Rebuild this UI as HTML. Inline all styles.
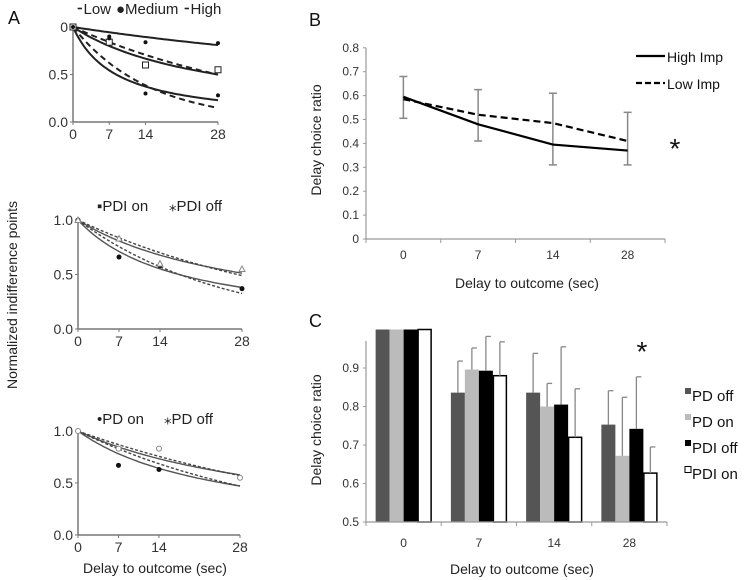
<!DOCTYPE html>
<html><head><meta charset="utf-8"><style>
body{margin:0;background:#fff;}
svg{display:block;font-family:"Liberation Sans",sans-serif;}
</style></head><body>
<svg id="s" width="750" height="580" viewBox="0 0 750 580"></svg>
<script>
// ---------- Panel A data ----------
const aDelays=[0,7,14,28];
const aTopK=[0.0084,0.0357,0.12];          // solid hyperbolic fits: high, medium, low
const aTopKd=[0.0248,0.068];               // dashed exponential fits: medium, low
const aTopHigh=[1,0.9,0.84,0.83];
const aTopMed=[1,0.84,0.6,0.55];
const aTopLow=[1,0.88,0.3,0.28];
const aMidK=[0.034,0.058];                 // solid: PDI off, PDI on
const aMidKd=[0.0255,0.04];
const aMidOn=[1,0.66,0.58,0.37];
const aMidOff=[1,0.83,0.6,0.55];
const aBotK=[0.026,0.04];                  // solid: PD off, PD on
const aBotKd=[0.02,0.027];
const aBotOn=[1,0.67,0.63,0.55];
const aBotOff=[1,0.83,0.83,0.55];
// ---------- Panel B data ----------
const bCats=["0","7","14","28"];
const bHigh=[0.595,0.48,0.395,0.37];
const bLow=[0.585,0.52,0.485,0.41];
const bErrLo=[0.505,0.41,0.31,0.31];
const bErrHi=[0.68,0.625,0.61,0.53];
const bTicks=["0","0.1","0.2","0.3","0.4","0.5","0.6","0.7","0.8"];
// ---------- Panel C data ----------
const cCats=["0","7","14","28"];
const cSeries=["PD off","PD on","PDI off","PDI on"];
const cPDoff=[1.0,0.836,0.836,0.753];
const cPDon=[1.0,0.896,0.8,0.672];
const cPDIoff=[1.0,0.893,0.805,0.742];
const cPDIon=[1.0,0.88,0.72,0.627];
const cErrPDoff=[0.001,0.082,0.102,0.088];
const cErrPDon=[0.001,0.056,0.06,0.152];
const cErrPDIoff=[0.001,0.089,0.15,0.135];
const cErrPDIon=[0,0.088,0.126,0.068];
const cTicks=["0.5","0.6","0.7","0.8","0.9"];

const S=document.getElementById('s');
const NS="http://www.w3.org/2000/svg";
function mk(tag,attrs,name,txt){const e=document.createElementNS(NS,tag);for(const k in attrs)e.setAttribute(k,attrs[k]);


if(txt!==undefined)e.textContent=txt;S.appendChild(e);return e;}

// ===== Panel A =====
mk('text',{x:8,y:24,'font-size':18,fill:'#111'},'panel-a-label','A');
mk('text',{x:0,y:0,'font-size':14,fill:'#222','text-anchor':'middle',transform:'translate(17,295) rotate(-90)'},'y-axis-title-a','Normalized indifference points');
mk('text',{x:155,y:573,'font-size':14,fill:'#222','text-anchor':'middle'},'x-axis-title-a','Delay to outcome (sec)');

function subplot(o){
 const X=d=>o.x0+d/28*(o.x1-o.x0);
 const Y=v=>o.y0-v*(o.y0-o.y1);
 mk('line',{x1:o.x0,y1:Y(0),x2:o.x0,y2:Y(1),stroke:'#777','stroke-width':1.5},o.n+'-y-axis');
 mk('line',{x1:o.x0,y1:Y(0),x2:o.x1,y2:Y(0),stroke:'#777','stroke-width':1.5},o.n+'-x-axis');
 o.yl.forEach((t,i)=>{const v=i*0.5;mk('text',{x:o.x0-5,y:Y(v)+5,'font-size':14,fill:'#333','text-anchor':'end'},o.n+'-y-tick',t);
  mk('line',{x1:o.x0-3,y1:Y(v),x2:o.x0,y2:Y(v),stroke:'#777'},o.n+'-y-tickmark');});
 aDelays.forEach(d=>{mk('text',{x:X(d),y:Y(0)+17,'font-size':14,fill:'#333','text-anchor':'middle'},o.n+'-x-tick',String(d));
  mk('line',{x1:X(d),y1:Y(0),x2:X(d),y2:Y(0)+3,stroke:'#777'},o.n+'-x-tickmark');});
 const curve=(f,dash,col,w)=>{let p='';for(let d=0;d<=28;d+=0.5)p+=(d?'L':'M')+X(d).toFixed(1)+','+Y(f(d)).toFixed(1);
  const a={d:p,fill:'none',stroke:col,'stroke-width':w};if(dash)a['stroke-dasharray']=dash;mk('path',a,o.n+'-fit-curve');};
 o.k.forEach(k=>curve(d=>1/(1+k*d),null,o.sc,o.sw));
 o.kd.forEach(k=>curve(d=>Math.exp(-k*d),o.dash,o.dc,o.sw));
 o.pts.forEach(ps=>ps.v.forEach((v,i)=>{const x=X(aDelays[i]),y=Y(v);
  if(ps.shape==='sq')mk('rect',{x:x-3,y:y-3,width:6,height:6,fill:'#fff',stroke:'#222'},o.n+'-point');
  else if(ps.shape==='tri')mk('path',{d:`M${x},${y-3}L${x+3},${y+2.5}L${x-3},${y+2.5}Z`,fill:'#fff',stroke:'#888'},o.n+'-point');
  else if(ps.shape==='open')mk('circle',{cx:x,cy:y,r:2.5,fill:'#fff',stroke:'#888'},o.n+'-point');
  else mk('circle',{cx:x,cy:y,r:ps.r||2.2,fill:'#111'},o.n+'-point');}));
 o.leg.forEach(l=>{mk('text',{x:l.x,y:l.y,'font-size':15,fill:'#222'},o.n+'-legend-entry',l.t);});
}
subplot({n:'a-top',x0:73,x1:218,y0:122,y1:27,yl:['0.0','0.5','0'],k:aTopK,kd:aTopKd,sc:'#222',dc:'#222',sw:2,dash:'6,4',
 pts:[{v:aTopHigh,r:2},{v:aTopMed,shape:'sq'},{v:aTopLow,r:2}],
 leg:[{x:76,y:14,t:'⁃Low'},{x:116,y:14,t:'●Medium'},{x:183,y:14,t:'⁃High'}]});
subplot({n:'a-mid',x0:78,x1:242,y0:329,y1:220,yl:['0.0','0.5','1.0'],k:aMidK,kd:aMidKd,sc:'#555',dc:'#444',sw:1.4,dash:'3,2',
 pts:[{v:aMidOn,r:2.5},{v:aMidOff,shape:'tri'}],
 leg:[{x:97,y:211,t:'▪PDI on'},{x:169,y:211,t:'⁎PDI off'}]});
subplot({n:'a-bot',x0:78,x1:240,y0:535,y1:431,yl:['0.0','0.5','1.0'],k:aBotK,kd:aBotKd,sc:'#555',dc:'#444',sw:1.4,dash:'3,2',
 pts:[{v:aBotOn,r:2.5},{v:aBotOff,shape:'open'}],
 leg:[{x:97,y:424,t:'•PD on'},{x:164,y:424,t:'⁎PD off'}]});

// ===== Panel B =====
(function(){
 const x0=366,x1=665,y0=239,per=23.9;
 const Y=v=>y0-v*10*per;
 const X=i=>x0+(i+0.5)*(x1-x0)/bCats.length;
 mk('text',{x:309,y:26,'font-size':18,fill:'#111'},'panel-b-label','B');
 mk('line',{x1:x0,y1:Y(0),x2:x0,y2:Y(0.8),stroke:'#999','stroke-width':1.2},'b-y-axis');
 mk('line',{x1:x0,y1:Y(0),x2:x1,y2:Y(0),stroke:'#999','stroke-width':1.2},'b-x-axis');
 bTicks.forEach((t,i)=>{const v=i/10;mk('text',{x:x0-7,y:Y(v)+4,'font-size':12,fill:'#333','text-anchor':'end'},'b-y-tick',t);
  mk('line',{x1:x0-3,y1:Y(v),x2:x0,y2:Y(v),stroke:'#999'},'b-y-tickmark');});
 for(let i=0;i<=bCats.length;i++)mk('line',{x1:x0+i*(x1-x0)/bCats.length,y1:y0,x2:x0+i*(x1-x0)/bCats.length,y2:y0+4,stroke:'#999'},'b-x-tickmark');
 bCats.forEach((c,i)=>mk('text',{x:X(i),y:259,'font-size':12,fill:'#333','text-anchor':'middle'},'b-x-tick',c));
 bCats.forEach((c,i)=>{mk('line',{x1:X(i),y1:Y(bErrLo[i]),x2:X(i),y2:Y(bErrHi[i]),stroke:'#888','stroke-width':1.5},'b-error-bar');
  [bErrLo[i],bErrHi[i]].forEach(v=>mk('line',{x1:X(i)-4,y1:Y(v),x2:X(i)+4,y2:Y(v),stroke:'#888','stroke-width':1.5},'b-error-cap'));});
 mk('path',{d:bHigh.map((v,i)=>(i?'L':'M')+X(i)+','+Y(v)).join(''),fill:'none',stroke:'#000','stroke-width':2.2},'b-line-high-imp');
 mk('path',{d:bLow.map((v,i)=>(i?'L':'M')+X(i)+','+Y(v)).join(''),fill:'none',stroke:'#000','stroke-width':2.2,'stroke-dasharray':'7,4'},'b-line-low-imp');
 mk('line',{x1:636,y1:56,x2:665,y2:56,stroke:'#000','stroke-width':2.2},'b-legend-swatch-high');
 mk('text',{x:667,y:62,'font-size':14,fill:'#111'},'b-legend-high-imp','High Imp');
 mk('line',{x1:636,y1:83,x2:665,y2:83,stroke:'#000','stroke-width':2.2,'stroke-dasharray':'6,3'},'b-legend-swatch-low');
 mk('text',{x:667,y:89,'font-size':14,fill:'#111'},'b-legend-low-imp','Low Imp');
 mk('text',{x:675,y:158,'font-size':28,fill:'#111','text-anchor':'middle'},'b-significance-asterisk','*');
 mk('text',{x:0,y:0,'font-size':14,fill:'#222','text-anchor':'middle',transform:'translate(321,140) rotate(-90)'},'b-y-axis-title','Delay choice ratio');
 mk('text',{x:527,y:288,'font-size':14,fill:'#222','text-anchor':'middle'},'b-x-axis-title','Delay to outcome (sec)');
})();

// ===== Panel C =====
(function(){
 const x0=366,x1=667,y0=522,per=38.5;
 const Y=v=>y0-(v-0.5)*10*per;
 const gw=(x1-x0)/cCats.length, bw=14;
 const vals=[cPDoff,cPDon,cPDIoff,cPDIon], errs=[cErrPDoff,cErrPDon,cErrPDIoff,cErrPDIon];
 const fills=['#555','#bbb','#000','#fff'];
 mk('text',{x:309,y:327,'font-size':18,fill:'#111'},'panel-c-label','C');
 mk('line',{x1:x0,y1:y0,x2:x0,y2:341,stroke:'#999','stroke-width':1.2},'c-y-axis');
 cTicks.forEach(t=>{const v=parseFloat(t);mk('text',{x:x0-7,y:Y(v)+4,'font-size':12,fill:'#333','text-anchor':'end'},'c-y-tick',t);
  mk('line',{x1:x0-3,y1:Y(v),x2:x0,y2:Y(v),stroke:'#999'},'c-y-tickmark');});
 cCats.forEach((c,i)=>{const cx=x0+(i+0.5)*gw;
  vals.forEach((s,j)=>{const bx=cx-2*bw+j*bw;
   mk('rect',{x:bx+(j===3?0.5:0),y:Y(s[i]),width:bw-(j===3?1:0),height:y0-Y(s[i]),fill:fills[j],stroke:j===3?'#000':'none','stroke-width':1.5},'c-bar-'+cSeries[j].replace(' ','-').toLowerCase()+'-'+c);
   if(errs[j][i]>0.002){const ex=bx+bw/2;
    mk('line',{x1:ex,y1:Y(s[i]),x2:ex,y2:Y(s[i]+errs[j][i]),stroke:'#888','stroke-width':1.3},'c-error-bar');
    mk('line',{x1:ex,y1:Y(s[i]+errs[j][i]),x2:ex+5,y2:Y(s[i]+errs[j][i]),stroke:'#888','stroke-width':1.3},'c-error-cap');}});
  mk('text',{x:cx,y:547,'font-size':12,fill:'#333','text-anchor':'middle'},'c-x-tick',c);});
 mk('line',{x1:x0,y1:y0,x2:x1,y2:y0,stroke:'#999','stroke-width':1.2},'c-x-axis');
 for(let i=0;i<=cCats.length;i++)mk('line',{x1:x0+i*gw,y1:y0,x2:x0+i*gw,y2:y0+4,stroke:'#999'},'c-x-tickmark');
 cSeries.forEach((s,j)=>{const y=398+j*26;
  mk('rect',{x:685,y:y-10+(j===3?0.5:0),width:6,height:6,fill:fills[j],stroke:j===3?'#000':'none'},'c-legend-swatch');
  mk('text',{x:692,y:y+3,'font-size':15,fill:'#111'},'c-legend-entry',s);});
 mk('text',{x:642,y:361,'font-size':28,fill:'#111','text-anchor':'middle'},'c-significance-asterisk','*');
 mk('text',{x:0,y:0,'font-size':14,fill:'#222','text-anchor':'middle',transform:'translate(321,430) rotate(-90)'},'c-y-axis-title','Delay choice ratio');
 mk('text',{x:522,y:574,'font-size':14,fill:'#222','text-anchor':'middle'},'c-x-axis-title','Delay to outcome (sec)');
})();
</script>
</body></html>
